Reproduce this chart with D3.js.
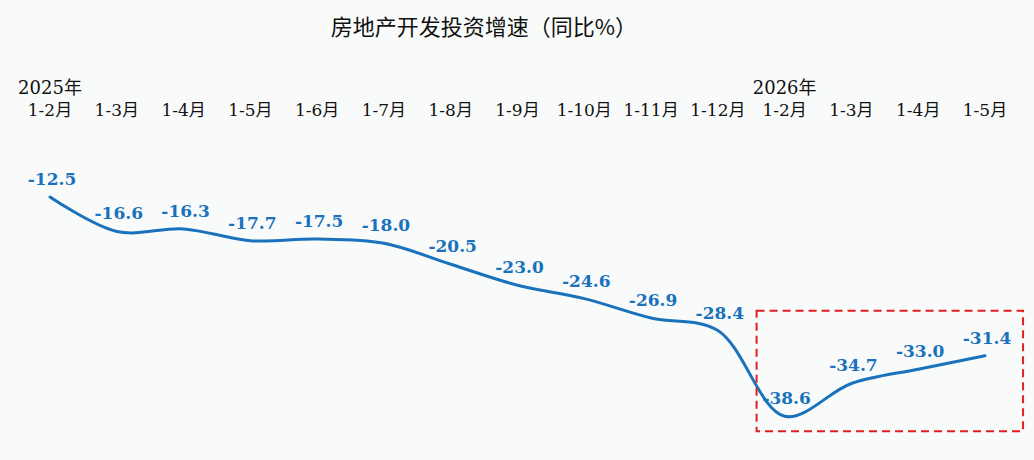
<!DOCTYPE html>
<html><head><meta charset="utf-8">
<script src="https://cdn.jsdelivr.net/npm/d3@7"></script>
<style>
html,body{margin:0;padding:0;background:#f9fbfa;}
svg{display:block;}
</style></head>
<body>
<script>
const title = "房地产开发投资增速（同比%）";
const categories = ["1-2月","1-3月","1-4月","1-5月","1-6月","1-7月","1-8月","1-9月","1-10月","1-11月","1-12月","1-2月","1-3月","1-4月","1-5月"];
const yearLabels = [{index:0, text:"2025年"},{index:11, text:"2026年"}];
const values = [-12.5,-16.6,-16.3,-17.7,-17.5,-18.0,-20.5,-23.0,-24.6,-26.9,-28.4,-38.6,-34.7,-33.0,-31.4];
const highlightRange = [11, 14];

const W = 1034, H = 460;
const svg = d3.select("body").append("svg").attr("width", W).attr("height", H);
svg.append("rect").attr("width", W).attr("height", H).attr("fill", "#f9fbfa");

const x = d3.scalePoint().domain(d3.range(categories.length)).range([50, 985]);
const y = d3.scaleLinear().domain([0, -40]).range([92, 428]);

svg.append("text").attr("x", 484).attr("y", 35).attr("text-anchor", "middle")
  .attr("font-family", "'Noto Sans CJK SC', sans-serif").attr("font-size", 22).attr("font-weight", 400)
  .attr("fill", "#111").text(title);

const catFont = "'DejaVu Serif', 'Noto Sans CJK SC', serif";
svg.selectAll("text.cat").data(categories).join("text").attr("class", "cat")
  .attr("x", (d, i) => x(i)).attr("y", 116).attr("text-anchor", "middle")
  .attr("font-family", catFont).attr("font-size", 17).attr("fill", "#111").text(d => d);

svg.selectAll("text.year").data(yearLabels).join("text").attr("class", "year")
  .attr("x", d => x(d.index)).attr("y", 94).attr("text-anchor", "middle")
  .attr("font-family", catFont).attr("font-size", 18).attr("fill", "#111").text(d => d.text);

const line = d3.line().x((d, i) => x(i)).y(d => y(d)).curve(d3.curveCatmullRom.alpha(0.5));
svg.append("path").attr("d", line(values)).attr("fill", "none")
  .attr("stroke", "#1a72bc").attr("stroke-width", 3).attr("stroke-linecap", "round");

svg.selectAll("text.val").data(values).join("text").attr("class", "val")
  .attr("x", (d, i) => x(i) + 2).attr("y", d => y(d) - 12)
  .attr("text-anchor", "middle").attr("font-family", "'DejaVu Serif', serif")
  .attr("font-weight", "bold").attr("font-size", 17).attr("fill", "#1a72bc")
  .text(d => d.toFixed(1));

const step = x.step();
const hx0 = x(highlightRange[0]) - step * 0.42, hx1 = x(highlightRange[1]) + step * 0.57;
const hy0 = y(d3.max(values.slice(highlightRange[0]))) - 45;
const hy1 = y(d3.min(values.slice(highlightRange[0]))) + 15;
svg.append("rect").attr("x", hx0).attr("y", hy0).attr("width", hx1 - hx0).attr("height", hy1 - hy0)
  .attr("fill", "none").attr("stroke", "#e02020").attr("stroke-width", 2).attr("stroke-dasharray", "8,5");
</script>
</body></html>
